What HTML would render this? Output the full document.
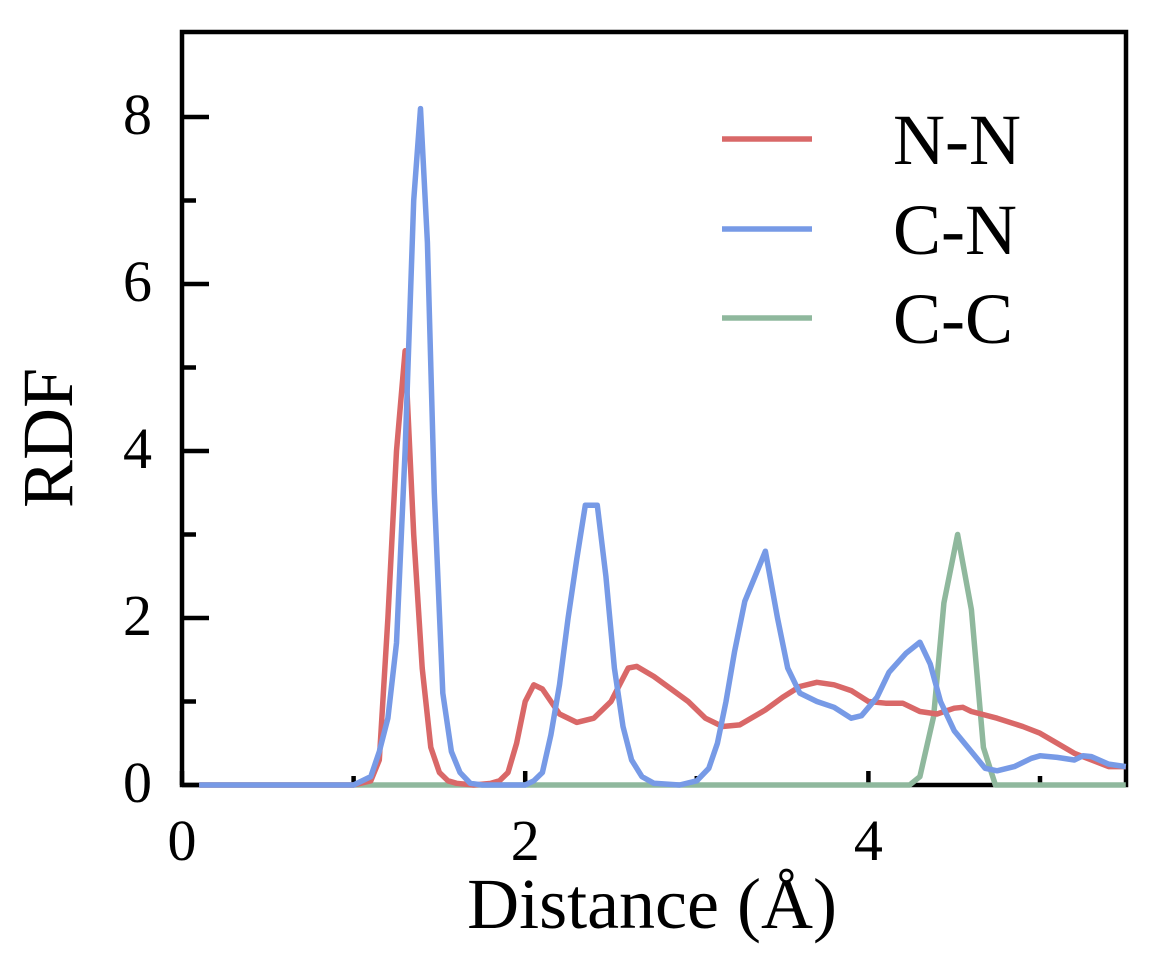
<!DOCTYPE html>
<html><head><meta charset="utf-8"><style>
body{margin:0;background:#fff}
svg{display:block;font-family:"Liberation Serif",serif}
</style></head><body>
<svg id="chart" width="1176" height="957" viewBox="0 0 1176 957">
<rect x="182" y="32" width="944" height="753" fill="none" stroke="#000" stroke-width="4.5"/>
<g id="ticks"></g>
<g id="series"></g>
<text transform="translate(72,438) rotate(-90)" text-anchor="middle" font-size="72">RDF</text>
<text x="652" y="928" text-anchor="middle" font-size="72">Distance (Å)</text>
<g>
<line x1="722" y1="139" x2="812" y2="139" stroke="#d96868" stroke-width="5.5"/>
<text x="893" y="164" font-size="72">N-N</text>
<line x1="722" y1="229" x2="812" y2="229" stroke="#779ae6" stroke-width="5.5"/>
<text x="893" y="254" font-size="72">C-N</text>
<line x1="722" y1="318" x2="812" y2="318" stroke="#8fb89d" stroke-width="5.5"/>
<text x="893" y="343" font-size="72">C-C</text>
</g>
</svg>
<script>
const xTicks=[0,2,4];
const xMinor=[1,3,5];
const yTicks=[0,2,4,6,8];
const yMinor=[1,3,5,7];
const nnX=[0.1,1.0,1.1,1.15,1.2,1.25,1.3,1.35,1.4,1.45,1.5,1.55,1.6,1.7,1.8,1.85,1.9,1.95,2.0,2.05,2.1,2.2,2.3,2.4,2.5,2.55,2.6,2.65,2.75,2.85,2.95,3.05,3.15,3.25,3.4,3.5,3.6,3.7,3.8,3.9,4.0,4.1,4.2,4.3,4.4,4.5,4.55,4.6,4.75,4.9,5.0,5.1,5.2,5.3,5.4,5.5];
const nnY=[0,0,0.05,0.3,2.0,4.0,5.2,3.0,1.4,0.45,0.15,0.05,0.02,0,0.02,0.05,0.15,0.5,1.0,1.2,1.15,0.85,0.75,0.8,1.0,1.2,1.4,1.42,1.3,1.15,1.0,0.8,0.7,0.72,0.9,1.05,1.18,1.23,1.2,1.13,1.0,0.98,0.98,0.88,0.85,0.92,0.93,0.88,0.8,0.7,0.62,0.5,0.38,0.3,0.22,0.22];
const cnX=[0.1,1.0,1.1,1.15,1.2,1.25,1.3,1.35,1.39,1.43,1.47,1.52,1.57,1.62,1.68,1.75,2.0,2.05,2.1,2.15,2.2,2.25,2.3,2.35,2.42,2.47,2.52,2.57,2.62,2.68,2.75,2.9,3.0,3.07,3.12,3.17,3.22,3.28,3.34,3.4,3.47,3.53,3.6,3.7,3.8,3.9,3.96,4.05,4.12,4.22,4.3,4.36,4.42,4.5,4.6,4.68,4.75,4.85,4.95,5.0,5.1,5.2,5.25,5.3,5.4,5.5];
const cnY=[0,0,0.1,0.4,0.8,1.7,4.0,7.0,8.1,6.5,3.5,1.1,0.4,0.15,0.02,0,0,0.05,0.15,0.6,1.2,2.0,2.7,3.35,3.35,2.5,1.4,0.7,0.3,0.1,0.02,0,0.05,0.2,0.5,1.0,1.6,2.2,2.5,2.8,2.0,1.4,1.1,1.0,0.93,0.8,0.83,1.05,1.35,1.58,1.71,1.45,1.0,0.65,0.4,0.2,0.17,0.22,0.32,0.35,0.33,0.3,0.35,0.34,0.25,0.22];
const ccX=[0.1,4.24,4.3,4.38,4.44,4.52,4.6,4.67,4.74,5.5];
const ccY=[0,0,0.1,0.82,2.18,3.0,2.1,0.45,0,0];
const X0=182,PX=171.6,Y0=785,PY=83.5;
const sx=v=>X0+v*PX, sy=v=>Y0-v*PY;
const NS="http://www.w3.org/2000/svg";
const tg=document.getElementById('ticks');
function ln(x1,y1,x2,y2,name){const l=document.createElementNS(NS,'line');
l.setAttribute('x1',x1);l.setAttribute('y1',y1);l.setAttribute('x2',x2);l.setAttribute('y2',y2);
l.setAttribute('stroke','#000');l.setAttribute('stroke-width','4.5');


tg.appendChild(l);}
function txt(x,y,s,anchor,name){const t=document.createElementNS(NS,'text');
t.setAttribute('x',x);t.setAttribute('y',y);t.setAttribute('text-anchor',anchor);t.setAttribute('font-size','58');t.textContent=s;


tg.appendChild(t);}
xTicks.forEach(v=>{ln(sx(v),Y0,sx(v),Y0-14,'x-major-tick');txt(sx(v),860,String(v),'middle','x-tick-label');});
xMinor.forEach(v=>{ln(sx(v),Y0,sx(v),Y0-9,'x-minor-tick');});
yTicks.forEach(v=>{ln(X0,sy(v),X0+27,sy(v),'y-major-tick');txt(152,sy(v)+17,String(v),'end','y-tick-label');});
yMinor.forEach(v=>{ln(X0,sy(v),X0+14,sy(v),'y-minor-tick');});
const sg=document.getElementById('series');
function series(xs,ys,color,name){const p=document.createElementNS(NS,'polyline');
p.setAttribute('points',xs.map((x,i)=>sx(x).toFixed(1)+','+sy(ys[i]).toFixed(1)).join(' '));
p.setAttribute('fill','none');p.setAttribute('stroke',color);p.setAttribute('stroke-width','5.5');p.setAttribute('stroke-linejoin','round');


sg.appendChild(p);}
series(ccX,ccY,'#8fb89d','series-c-c');
series(nnX,nnY,'#d96868','series-n-n');
series(cnX,cnY,'#779ae6','series-c-n');
</script>
</body></html>
